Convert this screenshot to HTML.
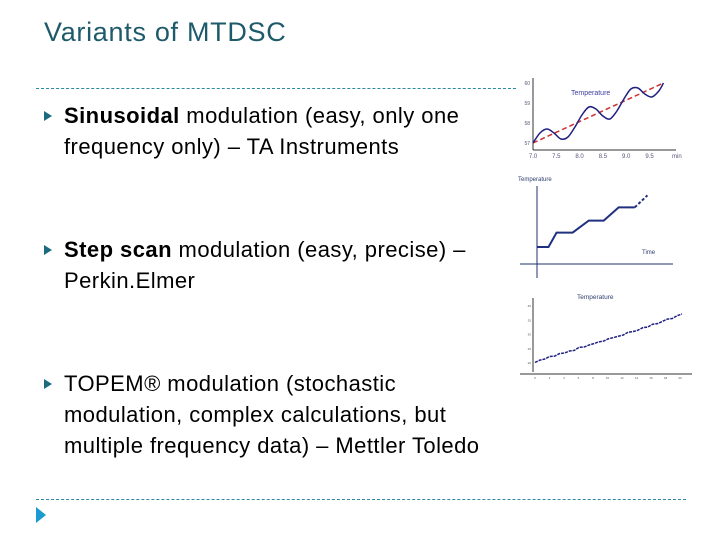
<!DOCTYPE html>
<html><head><meta charset="utf-8">
<style>
body{margin:0;width:720px;height:540px;background:#fff;overflow:hidden;position:relative;font-family:"Liberation Sans","DejaVu Sans",sans-serif}
.t{position:absolute;color:#000;font-size:22px;letter-spacing:0.45px;line-height:31px;white-space:nowrap}
.b{position:absolute;width:0;height:0;border-top:5px solid transparent;border-bottom:5px solid transparent;border-left:8px solid #1a9ad0}
</style></head><body>
<div style="position:absolute;left:44px;top:17px;font-size:27px;letter-spacing:0.7px;color:#1e5a6a">Variants of MTDSC</div>
<div style="position:absolute;left:36px;top:88px;width:480px;border-top:1px dashed #2a8aa0"></div>
<div style="position:absolute;left:36px;top:499px;width:650px;border-top:1px dashed #2a8aa0"></div>
<div class="b" style="left:44px;top:111px;border-left-color:#1e6b80"></div>
<div class="t" style="left:64px;top:100px"><b>Sinusoidal</b> modulation (easy, only one<br>frequency only) – TA Instruments</div>
<div class="b" style="left:44px;top:245px;border-left-color:#1e6b80"></div>
<div class="t" style="left:64px;top:234px"><b>Step scan</b> modulation (easy, precise) –<br>Perkin.Elmer</div>
<div class="b" style="left:44px;top:379px;border-left-color:#1e6b80"></div>
<div class="t" style="left:64px;top:368px">TOPEM® modulation (stochastic<br>modulation, complex calculations, but<br>multiple frequency data) – Mettler Toledo</div>
<div class="b" style="left:36px;top:507px;border-top-width:8px;border-bottom-width:8px;border-left-width:10px"></div>

<svg id="c" width="720" height="540" style="position:absolute;left:0;top:0"></svg>
<script>
// Chart 1: sinusoidal
const sinTimes=[7.0,7.15,7.3,7.45,7.6,7.75,7.9,8.05,8.2,8.35,8.5,8.65,8.8,8.95,9.1,9.25,9.4,9.55,9.7,9.8];
const sinTemps=[57.0,57.5,57.7,57.5,57.2,57.3,57.8,58.4,58.8,58.7,58.35,58.2,58.6,59.2,59.7,59.75,59.45,59.3,59.6,60.0];
const sinBase=[[7.0,57.0],[9.8,60.0]];
const sinXTicks=["7.0","7.5","8.0","8.5","9.0","9.5"];
const sinYTicks=["57","58","59","60"];
// Chart 2: step scan (time, temperature units)
const stepTimes=[0,1,1.7,3.1,4.5,5.8,7.1,8.5];
const stepTemps=[1,1,2.2,2.2,3.2,3.2,4.3,4.3];
const stepTail=[[8.5,4.3],[9.6,5.3]];
// Chart 3: TOPEM
const topTimes=[0,1,2,3,4,5,6,7,8,9,10,11,12,13,14,15,16,17,18,19,20,21,22,23,24,25,26,27,28,29,30];
const topTemps=[20.2,21.0,21.4,22.3,22.4,23.3,23.5,24.2,24.4,25.5,25.6,26.3,26.8,27.4,27.7,28.5,28.9,29.4,29.8,30.8,31.0,31.5,32.4,32.6,33.6,33.8,34.6,35.4,35.6,36.6,37.2];
const topXTicks=["0","2","4","6","8","10","12","14","16","18","20"];
const topYTicks=["20","25","30","35","40"];

const svg=document.getElementById('c');const NS='http://www.w3.org/2000/svg';
function mk(t,a){const e=document.createElementNS(NS,t);for(const k in a)e.setAttribute(k,a[k]);svg.appendChild(e);return e;}
function smooth(p){let d='M'+p[0][0]+','+p[0][1];for(let i=0;i<p.length-1;i++){const a=p[Math.max(0,i-1)],b=p[i],c=p[i+1],n=p[Math.min(p.length-1,i+2)];
d+=' C'+(b[0]+(c[0]-a[0])/6)+','+(b[1]+(c[1]-a[1])/6)+' '+(c[0]-(n[0]-b[0])/6)+','+(c[1]-(n[1]-b[1])/6)+' '+c[0]+','+c[1];}return d;}
// chart 1
const x1=v=>533+(v-7.0)*46.6, y1=v=>143-(v-57)*20;
let e=mk('line',{x1:533,y1:78,x2:533,y2:150,stroke:'#333','stroke-width':1});


e=mk('line',{x1:533,y1:150,x2:676,y2:150,stroke:'#333','stroke-width':1});


sinXTicks.forEach((s,i)=>{const t=mk('text',{x:x1(7+i*0.5),y:158,'font-size':6,fill:'#557','text-anchor':'middle'});t.textContent=s;

});
sinYTicks.forEach((s,i)=>{const t=mk('text',{x:530,y:y1(57+i)+2,'font-size':5,fill:'#557','text-anchor':'end'});t.textContent=s;

});
e=mk('text',{x:672,y:158,'font-size':6,fill:'#557'});e.textContent='min';


e=mk('text',{x:571,y:95,'font-size':7,fill:'#4040a0'});e.textContent='Temperature';


e=mk('line',{x1:x1(sinBase[0][0]),y1:y1(sinBase[0][1]),x2:x1(sinBase[1][0]),y2:y1(sinBase[1][1]),stroke:'#d03030','stroke-width':1.5,'stroke-dasharray':'5,3'});


e=mk('path',{d:smooth(sinTimes.map((t,i)=>[x1(t),y1(sinTemps[i])])),fill:'none',stroke:'#202080','stroke-width':1.5});


// chart 2
const x2=v=>537+v*11.5, y2=v=>259-v*12;
e=mk('line',{x1:537,y1:186,x2:537,y2:278,stroke:'#203070','stroke-width':1});


e=mk('line',{x1:520,y1:264,x2:673,y2:264,stroke:'#203070','stroke-width':1});


e=mk('text',{x:518,y:181,'font-size':6,fill:'#304070'});e.textContent='Temperature';


e=mk('text',{x:642,y:254,'font-size':6,fill:'#304070'});e.textContent='Time';


e=mk('polyline',{points:stepTimes.map((t,i)=>x2(t)+','+y2(stepTemps[i])).join(' '),fill:'none',stroke:'#203080','stroke-width':2});


e=mk('line',{x1:x2(stepTail[0][0]),y1:y2(stepTail[0][1]),x2:x2(stepTail[1][0]),y2:y2(stepTail[1][1]),stroke:'#203080','stroke-width':2,'stroke-dasharray':'3,2'});


// chart 3
const x3=v=>535+v*4.9, y3=v=>363-(v-20)*2.85;
e=mk('line',{x1:533,y1:298,x2:533,y2:372,stroke:'#333','stroke-width':1});


e=mk('line',{x1:520,y1:374,x2:692,y2:374,stroke:'#333','stroke-width':1});


e=mk('text',{x:577,y:299,'font-size':6.5,fill:'#304070'});e.textContent='Temperature';


topXTicks.forEach((s,i)=>{const t=mk('text',{x:535+i*14.5,y:379,'font-size':3,fill:'#555','text-anchor':'middle'});t.textContent=s;

});
topYTicks.forEach((s,i)=>{const t=mk('text',{x:531,y:y3(20+i*5)+1,'font-size':3,fill:'#555','text-anchor':'end'});t.textContent=s;

});
e=mk('polyline',{points:topTimes.map((t,i)=>x3(t)+','+y3(topTemps[i])).join(' '),fill:'none',stroke:'#202080','stroke-width':1.5,'stroke-dasharray':'3,1'});


</script>
</body></html>
